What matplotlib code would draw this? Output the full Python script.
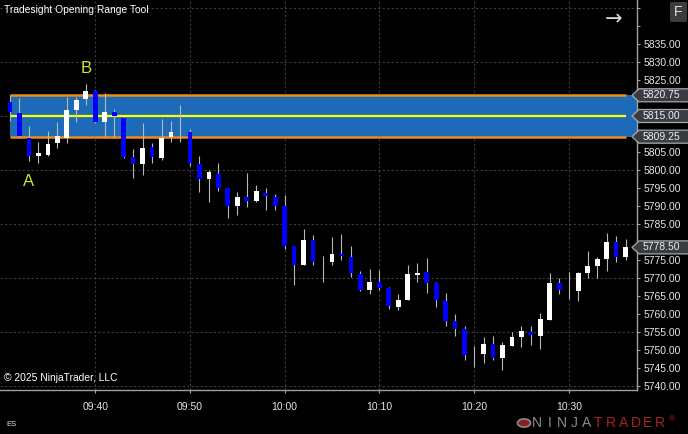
import matplotlib
matplotlib.use("Agg")
import matplotlib.pyplot as plt
import matplotlib.transforms as mtransforms
from matplotlib.patches import Polygon, FancyBboxPatch, Circle
import numpy as np
import pandas as pd

plt.rcParams['font.family'] = ['Liberation Sans', 'DejaVu Sans']

# 1-minute ES bars, 09:31 .. 10:36
bar_times = pd.date_range("2025-01-01 09:31", periods=66, freq="1min").strftime("%H:%M")

opens = [5819, 5815.75, 5808.75, 5803.75, 5804.25, 5807.5, 5809, 5816.75, 5819.75, 5822,
         5813.25, 5816, 5814.5, 5803.5, 5801.75, 5806.5, 5803.25, 5809.25, 5812.5, 5810.5,
         5801.75, 5797.5, 5799, 5795, 5790, 5792.5, 5791.25, 5793.5, 5792.5, 5790,
         5779, 5773.5, 5780.5, 5774.5, 5774.5, 5776.75, 5775.75, 5771, 5766.75, 5769,
         5767.25, 5762, 5764, 5770.75, 5771.75, 5768.5, 5763.5, 5758, 5755.75, 5750,
         5749, 5751.75, 5747.75, 5751, 5753.5, 5755, 5754, 5758.25, 5768.5, 5768.5,
         5766.5, 5771.5, 5773.25, 5775.25, 5780, 5775.75]
highs = [5820.75, 5820, 5812.25, 5807.75, 5810.75, 5813.25, 5820.25, 5820.25, 5824, 5822.25,
         5821.25, 5817, 5814.75, 5805.75, 5813, 5807.5, 5814.25, 5813.5, 5818, 5811.5,
         5804, 5800, 5802, 5795, 5793.75, 5799.25, 5795.75, 5795, 5793.25, 5793,
         5779, 5783.5, 5782, 5776, 5781.5, 5782.25, 5778.75, 5772, 5772.5, 5772.25,
         5767.5, 5765.5, 5773.5, 5774.25, 5775.5, 5769, 5765.75, 5760, 5756.75, 5751,
         5753.5, 5753.75, 5752.25, 5755, 5756.75, 5756.75, 5760.25, 5771.25, 5770, 5771.75,
         5771.75, 5777.5, 5775.75, 5782.5, 5781.75, 5780.75]
lows = [5813.5, 5809.25, 5802.5, 5802, 5803.75, 5806, 5807.5, 5813.25, 5818, 5813,
        5809.25, 5809.25, 5803.25, 5797.75, 5798.5, 5802, 5802.75, 5807.75, 5807.75, 5801,
        5793.75, 5791, 5794.25, 5786.75, 5787.5, 5789.75, 5791, 5789, 5789, 5778,
        5768, 5773.5, 5773.5, 5769, 5773.5, 5775, 5770.25, 5766.5, 5765.5, 5766.75,
        5761.5, 5761, 5764, 5769, 5765.75, 5762, 5756.75, 5753.75, 5747.25, 5745.25,
        5746.5, 5747.25, 5744.5, 5751, 5750.75, 5751.5, 5750.25, 5758.25, 5765.5, 5764.25,
        5763.5, 5770, 5770, 5772, 5774.5, 5775]
closes = [5816, 5809.5, 5804, 5804.75, 5807.25, 5809.5, 5816.75, 5819.5, 5822, 5813.25,
          5816, 5815, 5803.5, 5801.75, 5806, 5803.5, 5809, 5810.5, 5812.5, 5802,
          5797.5, 5799.5, 5795, 5790, 5792.5, 5791.25, 5794.25, 5792.75, 5790, 5779,
          5773.5, 5780.5, 5774.5, 5774.5, 5776.75, 5776, 5771.25, 5766.75, 5769, 5767.25,
          5762.25, 5764, 5771, 5771.5, 5768.5, 5763.75, 5758, 5755.75, 5748.5, 5750,
          5751.75, 5747.75, 5751.25, 5753.5, 5755.25, 5754.25, 5758.5, 5768.5, 5766.75, 5768.5,
          5771.25, 5773.25, 5775.25, 5780, 5775.75, 5778.5]

# opening range
or_high = 5820.75
or_mid = 5815.00
or_low = 5809.25

time_ticks = ["09:40", "09:50", "10:00", "10:10", "10:20", "10:30"]
price_ticks = np.arange(5740, 5850, 5)
grid_prices = np.arange(5740, 5850, 15)

# label points: (bar index, text)
point_labels = [(2, "A"), (8, "B")]

BAR_PX = 9.47
fig = plt.figure(figsize=(6.88, 4.34), dpi=100, facecolor="black")
ax = fig.add_axes([0, 44 / 434, 637 / 688, 390 / 434])
ax.set_facecolor("black")

n = len(closes)
x = np.arange(n)
o = np.array(opens); c = np.array(closes)
ax.set_xlim(-10 / BAR_PX, 627 / BAR_PX)
ax.set_ylim(5847.22 - 390 / 3.6, 5847.22)

# grid
grid_kw = dict(color="#3c3c3c", lw=0.8, linestyle=(0, (2, 2)), zorder=0.5)
for gp in grid_prices:
    ax.axhline(gp, **grid_kw)
tick_idx = [list(bar_times).index(t) for t in time_ticks]
for ti in tick_idx:
    ax.axvline(ti, **grid_kw)

# opening range band
xmax = ax.get_xlim()[1]
ax.fill_between([0, xmax], or_low, or_high, color="#1d6ab8", zorder=1, lw=0)
ax.hlines([or_high, or_low], 0, n - 1, color="#f08a18", lw=1.8, zorder=2)
ax.hlines(or_mid, 0, n - 1, color="#ffff00", lw=1.6, zorder=2)

# candles
ax.vlines(x, lows, highs, color="#b8b8b8", lw=0.8, zorder=3)
up = c >= o
body_col = np.where(up, "#ffffff", "#0000ff")
ax.bar(x, np.abs(c - o), bottom=np.minimum(o, c), width=0.5, color=body_col,
       lw=0, zorder=4)

for bi, txt in point_labels:
    if txt == "A":
        ax.text(bi, lows[bi] - 5.6, txt, color="#c8e632", fontsize=12,
                ha="center", va="center", zorder=6)
    else:
        ax.text(bi, highs[bi] + 4.2, txt, color="#c8e632", fontsize=12,
                ha="center", va="center", zorder=6)

# axes styling
for s in ["top", "left"]:
    ax.spines[s].set_visible(False)
for s in ["right", "bottom"]:
    ax.spines[s].set_color("#a0a0a0")
    ax.spines[s].set_linewidth(1)

marker_prices = [or_high, or_mid, or_low, closes[-1]]
ax.yaxis.tick_right()
ax.set_yticks(price_ticks)
ylabels = []
for v in price_ticks:
    hidden = v > 5835 or min(abs(v - mp) for mp in marker_prices) < 3.5
    ylabels.append("" if hidden else f"{v:.2f}")
ax.set_yticklabels(ylabels)
ax.set_xticks(tick_idx)
ax.set_xticklabels(time_ticks)
ax.tick_params(axis="both", colors="#a0a0a0", labelcolor="#e6e6e6",
               labelsize=7.5, length=2.5, width=0.8)
ax.tick_params(axis="y", pad=2.2)
ax.tick_params(axis="x", pad=6)

# price markers on the right axis
trans = mtransforms.blended_transform_factory(ax.transAxes, ax.transData)
h = 6.5 / 3.6
tip, x0, x1 = 632 / 637, 639 / 637, 690 / 637
for price in marker_prices:
    poly = Polygon([(tip, price), (x0, price + h), (x1, price + h), (x1, price - h),
                    (x0, price - h)], closed=True, transform=trans, clip_on=False,
                   facecolor="#3a3c44", edgecolor="#a8a8a8", lw=0.9, zorder=10)
    ax.add_patch(poly)
    ax.text(643 / 637, price, f"{price:.2f}", transform=trans, color="#f0f0f0",
            fontsize=7.5, ha="left", va="center", zorder=11, clip_on=False)

# texts
fig.text(4 / 688, 1 - 10 / 434, "Tradesight Opening Range Tool", color="white",
         fontsize=7.4, va="center", ha="left")
fig.text(4 / 688, 1 - 378 / 434, "© 2025 NinjaTrader, LLC", color="white",
         fontsize=7.4, va="center", ha="left")
fig.text(6 / 688, 1 - 424 / 434, "ES", color="#e0e0e0", fontsize=5.5, va="center")
fig.text(614 / 688, 1 - 19 / 434, "→", color="#d8d8d8", fontsize=15, va="center",
         ha="center", family="DejaVu Sans")
fig.patches.append(FancyBboxPatch((670 / 688, 1 - 22 / 434), 17 / 688, 20 / 434,
                                  boxstyle="round,pad=0,rounding_size=0.003",
                                  transform=fig.transFigure, facecolor="#3c3c3c",
                                  edgecolor="none"))
fig.text(678.5 / 688, 1 - 12 / 434, "F", color="#e0e0e0", fontsize=10,
         ha="center", va="center")

# NinjaTrader logo
fig.patches.append(Circle((524 / 688, 1 - 423 / 434), 0.0095, transform=fig.transFigure,
                          facecolor="#8a2020", edgecolor="#8a8a8a", lw=1.2))
for k, ch in enumerate("NINJATRADER"):
    col = "#8c8c8c" if k < 5 else "#b0201e"
    fig.text((537 + k * 12.3) / 688, 1 - 423 / 434, ch, color=col, fontsize=10,
             ha="center", va="center")
fig.text(672 / 688, 1 - 420 / 434, "®", color="#b0201e", fontsize=6,
         ha="center", va="center")

fig.savefig("out.png", dpi=100, facecolor="black")
